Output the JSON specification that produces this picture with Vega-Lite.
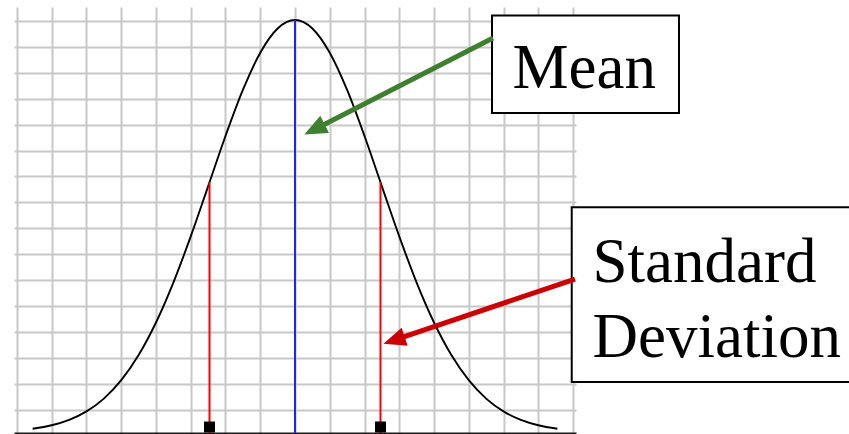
{
  "$schema": "https://vega.github.io/schema/vega-lite/v6.json",
  "width": 562,
  "height": 426,
  "autosize": {"type": "none"},
  "padding": {"left": 14, "top": 7, "right": 273, "bottom": 1},
  "background": "white",
  "config": {"view": {"stroke": null}},
  "encoding": {
    "x": {"type": "quantitative", "scale": {"domain": [-8.086, 8.086], "nice": false, "zero": false},
      "axis": {"values": [-8,-7,-6,-5,-4,-3,-2,-1,0,1,2,3,4,5,6,7,8], "grid": true, "gridColor": "#c8c8c8", "gridWidth": 2, "gridOpacity": 1, "labels": false, "ticks": false, "domain": true, "domainColor": "#1a1a1a", "domainWidth": 2, "title": null}},
    "y": {"type": "quantitative", "scale": {"domain": [-0.886, 15.53], "nice": false, "zero": false},
      "axis": {"values": [0,1,2,3,4,5,6,7,8,9,10,11,12,13,14,15], "grid": true, "gridColor": "#c8c8c8", "gridWidth": 2, "gridOpacity": 1, "labels": false, "ticks": false, "domain": false, "title": null}}
  },
  "layer": [
    {
      "data": {"values": [
        {"u": -7.55, "v": -0.72}, {"u": -7.0, "v": -0.589}, {"u": -6.5, "v": -0.382}, {"u": -6.0, "v": -0.054},
        {"u": -5.5, "v": 0.44}, {"u": -5.0, "v": 1.149}, {"u": -4.5, "v": 2.118}, {"u": -4.0, "v": 3.373},
        {"u": -3.5, "v": 4.912}, {"u": -3.0, "v": 6.692}, {"u": -2.5, "v": 8.62}, {"u": -2.0, "v": 10.557},
        {"u": -1.5, "v": 12.333}, {"u": -1.0, "v": 13.769}, {"u": -0.5, "v": 14.704}, {"u": 0.0, "v": 15.029},
        {"u": 0.5, "v": 14.704}, {"u": 1.0, "v": 13.769}, {"u": 1.5, "v": 12.333}, {"u": 2.0, "v": 10.557},
        {"u": 2.5, "v": 8.62}, {"u": 3.0, "v": 6.692}, {"u": 3.5, "v": 4.912}, {"u": 4.0, "v": 3.373},
        {"u": 4.5, "v": 2.118}, {"u": 5.0, "v": 1.149}, {"u": 5.5, "v": 0.44}, {"u": 6.0, "v": -0.054},
        {"u": 6.5, "v": -0.382}, {"u": 7.0, "v": -0.589}, {"u": 7.55, "v": -0.72}
      ]},
      "mark": {"type": "line", "color": "black", "strokeWidth": 1.9, "interpolate": "monotone"},
      "encoding": {"x": {"field": "u"}, "y": {"field": "v"}}
    },
    {
      "data": {"values": [
        {"kind": "mean", "u": 0, "top": 15.029, "bottom": -0.886},
        {"kind": "sd", "u": -2.46, "top": 8.774, "bottom": -0.886},
        {"kind": "sd", "u": 2.46, "top": 8.774, "bottom": -0.886}
      ]},
      "mark": {"type": "rule", "strokeWidth": 2},
      "encoding": {
        "x": {"field": "u"}, "y": {"field": "top"}, "y2": {"field": "bottom"},
        "color": {"field": "kind", "type": "nominal", "scale": {"domain": ["mean", "sd"], "range": ["#2222ff", "#ff0000"]}, "legend": null}
      }
    },
    {
      "data": {"values": [{"u": -2.46, "v": -0.655}, {"u": 2.46, "v": -0.655}]},
      "mark": {"type": "point", "shape": "square", "filled": true, "color": "black", "size": 121, "opacity": 1},
      "encoding": {"x": {"field": "u"}, "y": {"field": "v"}}
    },
    {
      "data": {"values": [
        {"x1": 5.669, "x2": 11.05, "y1": 15.202, "y2": 11.445},
        {"x1": 7.963, "x2": 16.2, "y1": 7.811, "y2": 1.079}
      ]},
      "mark": {"type": "rect", "fill": "white", "stroke": "black", "strokeWidth": 2},
      "encoding": {"x": {"field": "x1"}, "x2": {"field": "x2"}, "y": {"field": "y1"}, "y2": {"field": "y2"}}
    },
    {
      "data": {"values": [
        {"label": "Mean", "u": 6.259, "v": 12.408},
        {"label": "Standard", "u": 8.561, "v": 4.944},
        {"label": "Deviation", "u": 8.561, "v": 2.054}
      ]},
      "mark": {"type": "text", "align": "left", "baseline": "alphabetic", "font": "Liberation Serif", "fontSize": 63, "color": "black"},
      "encoding": {"x": {"field": "u"}, "y": {"field": "v"}, "text": {"field": "label"}}
    },
    {
      "data": {"values": [{"u": 5.698, "v": 14.335, "u2": 0.56, "v2": 10.81}]},
      "mark": {"type": "rule", "color": "#3f8030", "strokeWidth": 5},
      "encoding": {"x": {"field": "u"}, "y": {"field": "v"}, "x2": {"field": "u2"}, "y2": {"field": "v2"}}
    },
    {
      "data": {"values": [{"u": 0.56, "v": 10.81}]},
      "mark": {"type": "point", "shape": "M1,0L-1,-0.85L-1,0.85Z", "filled": true, "color": "#3f8030", "opacity": 1, "size": 520, "angle": 153.4},
      "encoding": {"x": {"field": "u"}, "y": {"field": "v"}}
    },
    {
      "data": {"values": [{"u": 8.058, "v": 5.048, "u2": 2.85, "v2": 2.69}]},
      "mark": {"type": "rule", "color": "#cc0000", "strokeWidth": 5},
      "encoding": {"x": {"field": "u"}, "y": {"field": "v"}, "x2": {"field": "u2"}, "y2": {"field": "v2"}}
    },
    {
      "data": {"values": [{"u": 2.85, "v": 2.69}]},
      "mark": {"type": "point", "shape": "M1,0L-1,-0.85L-1,0.85Z", "filled": true, "color": "#cc0000", "opacity": 1, "size": 500, "angle": 161.6},
      "encoding": {"x": {"field": "u"}, "y": {"field": "v"}}
    }
  ]
}
